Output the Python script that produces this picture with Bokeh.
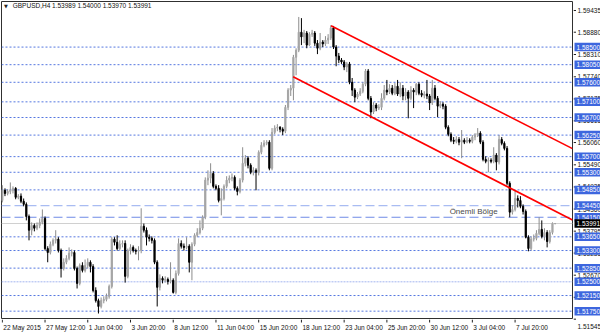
from bokeh.plotting import figure
from bokeh.models import Range1d, Label, Span, ColumnDataSource
from bokeh.layouts import row, column
from bokeh.embed import file_html
from bokeh.resources import INLINE
from bokeh.core.properties import value

FONT = "Liberation Sans"

# ---------------- data (GBPUSD, H4) ----------------
symbol = "GBPUSD,H4"
last_ohlc = [1.53989, 1.54000, 1.53970, 1.53991]

opens = [1.5458, 1.5484, 1.5476, 1.5481, 1.5484, 1.5489, 1.5466, 1.5469, 1.5456, 1.5448,
         1.5417, 1.5382, 1.5394, 1.5387, 1.5394, 1.5402, 1.5412, 1.5335, 1.5325, 1.5346,
         1.5356, 1.5359, 1.5330, 1.5284, 1.5300, 1.5310, 1.5323, 1.5325, 1.5284, 1.5246,
         1.5292, 1.5279, 1.5292, 1.5300, 1.5289, 1.5228, 1.5202, 1.5187, 1.5202, 1.5205,
         1.5213, 1.5238, 1.5359, 1.5351, 1.5335, 1.5346, 1.5348, 1.5264, 1.5330, 1.5338,
         1.5330, 1.5328, 1.5330, 1.5392, 1.5382, 1.5364, 1.5361, 1.5356, 1.5300, 1.5236,
         1.5259, 1.5254, 1.5256, 1.5251, 1.5254, 1.5223, 1.5271, 1.5348, 1.5341, 1.5338,
         1.5341, 1.5300, 1.5346, 1.5369, 1.5376, 1.5387, 1.5415, 1.5510, 1.5515, 1.5527,
         1.5494, 1.5489, 1.5458, 1.5463, 1.5494, 1.5510, 1.5515, 1.5517, 1.5489, 1.5481,
         1.5510, 1.5553, 1.5566, 1.5548, 1.5530, 1.5535, 1.5530, 1.5581, 1.5599, 1.5604,
         1.5607, 1.5540, 1.5632, 1.5643, 1.5645, 1.5640, 1.5635, 1.5696, 1.5740, 1.5745,
         1.5824, 1.5842, 1.5888, 1.5876, 1.5886, 1.5855, 1.5883, 1.5886, 1.5860, 1.5847,
         1.5863, 1.5858, 1.5868, 1.5873, 1.5899, 1.5850, 1.5827, 1.5817, 1.5812, 1.5799,
         1.5807, 1.5760, 1.5740, 1.5722, 1.5730, 1.5737, 1.5755, 1.5789, 1.5719, 1.5684,
         1.5702, 1.5694, 1.5696, 1.5719, 1.5740, 1.5735, 1.5745, 1.5732, 1.5750, 1.5730,
         1.5745, 1.5725, 1.5735, 1.5719, 1.5740, 1.5735, 1.5755, 1.5732, 1.5727, 1.5730,
         1.5725, 1.5707, 1.5745, 1.5719, 1.5699, 1.5704, 1.5699, 1.5645, 1.5627, 1.5612,
         1.5609, 1.5614, 1.5607, 1.5612, 1.5607, 1.5612, 1.5609, 1.5620, 1.5625, 1.5630,
         1.5607, 1.5563, 1.5558, 1.5561, 1.5558, 1.5574, 1.5556, 1.5614, 1.5604, 1.5591,
         1.5502, 1.5428, 1.5435, 1.5463, 1.5458, 1.5443, 1.5430, 1.5364, 1.5335, 1.5359,
         1.5361, 1.5374, 1.5384, 1.5366, 1.5376, 1.5353, 1.5376, 1.53989]

highs = [1.5497, 1.5489, 1.5487, 1.5504, 1.5494, 1.5492, 1.5474, 1.5476, 1.5463, 1.5453,
         1.5422, 1.5402, 1.5399, 1.5402, 1.5412, 1.5435, 1.5417, 1.5341, 1.5353, 1.5361,
         1.5382, 1.5364, 1.5335, 1.5310, 1.5318, 1.5338, 1.5333, 1.5330, 1.5289, 1.5297,
         1.5300, 1.5307, 1.5310, 1.5305, 1.5295, 1.5236, 1.5207, 1.5210, 1.5213, 1.5220,
         1.5243, 1.5364, 1.5364, 1.5369, 1.5356, 1.5356, 1.5356, 1.5335, 1.5346, 1.5343,
         1.5335, 1.5341, 1.5438, 1.5399, 1.5389, 1.5371, 1.5366, 1.5361, 1.5305, 1.5269,
         1.5264, 1.5264, 1.5261, 1.5300, 1.5259, 1.5279, 1.5361, 1.5356, 1.5348, 1.5364,
         1.5346, 1.5351, 1.5374, 1.5387, 1.5407, 1.5420, 1.5517, 1.5535, 1.5553, 1.5533,
         1.5499, 1.5497, 1.5489, 1.5499, 1.5520, 1.5522, 1.5527, 1.5522, 1.5494, 1.5515,
         1.5594, 1.5574, 1.5571, 1.5553, 1.5543, 1.5540, 1.5586, 1.5607, 1.5612, 1.5612,
         1.5612, 1.5643, 1.5650, 1.5653, 1.5648, 1.5645, 1.5702, 1.5745, 1.5753, 1.5830,
         1.5847, 1.5927, 1.5924, 1.5894, 1.5891, 1.5888, 1.5894, 1.5891, 1.5868, 1.5886,
         1.5868, 1.5878, 1.5883, 1.5906, 1.5904, 1.5855, 1.5835, 1.5822, 1.5817, 1.5812,
         1.5812, 1.5771, 1.5745, 1.5735, 1.5745, 1.5760, 1.5794, 1.5794, 1.5725, 1.5709,
         1.5707, 1.5704, 1.5732, 1.5753, 1.5766, 1.5755, 1.5753, 1.5758, 1.5766, 1.5760,
         1.5753, 1.5745, 1.5740, 1.5750, 1.5745, 1.5758, 1.5760, 1.5740, 1.5737, 1.5766,
         1.5730, 1.5766, 1.5753, 1.5725, 1.5712, 1.5709, 1.5704, 1.5650, 1.5632, 1.5620,
         1.5622, 1.5620, 1.5638, 1.5617, 1.5620, 1.5617, 1.5625, 1.5630, 1.5643, 1.5635,
         1.5612, 1.5571, 1.5568, 1.5566, 1.5594, 1.5579, 1.5625, 1.5620, 1.5609, 1.5597,
         1.5507, 1.5446, 1.5484, 1.5471, 1.5469, 1.5448, 1.5435, 1.5369, 1.5366, 1.5371,
         1.5382, 1.5415, 1.5407, 1.5387, 1.5382, 1.5382, 1.5402, 1.54000]

lows = [1.5453, 1.5469, 1.5471, 1.5474, 1.5476, 1.5461, 1.5461, 1.5451, 1.5443, 1.5407,
        1.5356, 1.5369, 1.5379, 1.5382, 1.5387, 1.5397, 1.5330, 1.5300, 1.5320, 1.5341,
        1.5348, 1.5325, 1.5261, 1.5279, 1.5295, 1.5305, 1.5315, 1.5279, 1.5233, 1.5241,
        1.5274, 1.5274, 1.5284, 1.5274, 1.5223, 1.5197, 1.5169, 1.5182, 1.5195, 1.5200,
        1.5207, 1.5233, 1.5343, 1.5330, 1.5330, 1.5338, 1.5248, 1.5259, 1.5320, 1.5325,
        1.5320, 1.5305, 1.5323, 1.5376, 1.5343, 1.5353, 1.5348, 1.5295, 1.5187, 1.5228,
        1.5246, 1.5248, 1.5243, 1.5246, 1.5220, 1.5218, 1.5266, 1.5335, 1.5330, 1.5333,
        1.5274, 1.5254, 1.5341, 1.5364, 1.5371, 1.5382, 1.5410, 1.5497, 1.5502, 1.5489,
        1.5484, 1.5453, 1.5420, 1.5458, 1.5489, 1.5502, 1.5507, 1.5484, 1.5471, 1.5476,
        1.5504, 1.5545, 1.5540, 1.5525, 1.5522, 1.5484, 1.5522, 1.5576, 1.5594, 1.5599,
        1.5535, 1.5535, 1.5627, 1.5635, 1.5632, 1.5625, 1.5630, 1.5689, 1.5725, 1.5714,
        1.5778, 1.5837, 1.5855, 1.5860, 1.5847, 1.5853, 1.5876, 1.5853, 1.5832, 1.5842,
        1.5850, 1.5853, 1.5858, 1.5868, 1.5845, 1.5801, 1.5809, 1.5807, 1.5791, 1.5786,
        1.5755, 1.5725, 1.5709, 1.5717, 1.5725, 1.5732, 1.5750, 1.5714, 1.5668, 1.5679,
        1.5686, 1.5689, 1.5689, 1.5714, 1.5727, 1.5730, 1.5727, 1.5727, 1.5725, 1.5722,
        1.5714, 1.5714, 1.5668, 1.5714, 1.5694, 1.5727, 1.5727, 1.5722, 1.5719, 1.5717,
        1.5689, 1.5702, 1.5714, 1.5671, 1.5694, 1.5691, 1.5640, 1.5622, 1.5607, 1.5602,
        1.5604, 1.5599, 1.5566, 1.5602, 1.5604, 1.5604, 1.5604, 1.5612, 1.5620, 1.5602,
        1.5558, 1.5553, 1.5530, 1.5553, 1.5553, 1.5535, 1.5550, 1.5599, 1.5586, 1.5497,
        1.5415, 1.5422, 1.5430, 1.5440, 1.5438, 1.5422, 1.5361, 1.5328, 1.5330, 1.5353,
        1.5356, 1.5369, 1.5361, 1.5356, 1.5338, 1.5348, 1.5371, 1.53970]

closes = [1.5484, 1.5476, 1.5481, 1.5484, 1.5489, 1.5466, 1.5469, 1.5456, 1.5448, 1.5417,
          1.5382, 1.5394, 1.5387, 1.5394, 1.5402, 1.5412, 1.5335, 1.5325, 1.5346, 1.5356,
          1.5359, 1.5330, 1.5284, 1.5300, 1.5310, 1.5323, 1.5325, 1.5284, 1.5246, 1.5292,
          1.5279, 1.5292, 1.5300, 1.5289, 1.5228, 1.5202, 1.5187, 1.5202, 1.5205, 1.5213,
          1.5238, 1.5359, 1.5351, 1.5335, 1.5346, 1.5348, 1.5264, 1.5330, 1.5338, 1.5330,
          1.5328, 1.5330, 1.5392, 1.5382, 1.5364, 1.5361, 1.5356, 1.5300, 1.5236, 1.5259,
          1.5254, 1.5256, 1.5251, 1.5254, 1.5223, 1.5271, 1.5348, 1.5341, 1.5338, 1.5341,
          1.5300, 1.5346, 1.5369, 1.5376, 1.5387, 1.5415, 1.5510, 1.5515, 1.5527, 1.5494,
          1.5489, 1.5458, 1.5463, 1.5494, 1.5510, 1.5515, 1.5517, 1.5489, 1.5481, 1.5510,
          1.5553, 1.5566, 1.5548, 1.5530, 1.5535, 1.5530, 1.5581, 1.5599, 1.5604, 1.5607,
          1.5540, 1.5632, 1.5643, 1.5645, 1.5640, 1.5635, 1.5696, 1.5740, 1.5745, 1.5824,
          1.5842, 1.5888, 1.5876, 1.5886, 1.5855, 1.5883, 1.5886, 1.5860, 1.5847, 1.5863,
          1.5858, 1.5868, 1.5873, 1.5899, 1.5850, 1.5827, 1.5817, 1.5812, 1.5799, 1.5807,
          1.5760, 1.5740, 1.5722, 1.5730, 1.5737, 1.5755, 1.5789, 1.5719, 1.5684, 1.5702,
          1.5694, 1.5696, 1.5719, 1.5740, 1.5735, 1.5745, 1.5732, 1.5750, 1.5730, 1.5745,
          1.5725, 1.5735, 1.5719, 1.5740, 1.5735, 1.5755, 1.5732, 1.5727, 1.5730, 1.5725,
          1.5707, 1.5745, 1.5719, 1.5699, 1.5704, 1.5699, 1.5645, 1.5627, 1.5612, 1.5609,
          1.5614, 1.5607, 1.5612, 1.5607, 1.5612, 1.5609, 1.5620, 1.5625, 1.5630, 1.5607,
          1.5563, 1.5558, 1.5561, 1.5558, 1.5574, 1.5556, 1.5614, 1.5604, 1.5591, 1.5502,
          1.5428, 1.5435, 1.5463, 1.5458, 1.5443, 1.5430, 1.5364, 1.5335, 1.5359, 1.5361,
          1.5374, 1.5384, 1.5366, 1.5376, 1.5353, 1.5376, 1.5399, 1.53991]

time_tick_bars = [0, 16, 32, 48, 64, 80, 96, 112, 128, 144, 160, 176, 192]
time_tick_labels = ["22 May 2015", "27 May 12:00", "1 Jun 04:00", "3 Jun 20:00",
                    "8 Jun 12:00", "11 Jun 04:00", "15 Jun 20:00", "18 Jun 12:00",
                    "23 Jun 04:00", "25 Jun 20:00", "30 Jun 12:00", "3 Jul 04:00",
                    "7 Jul 20:00"]

price_ticks = [1.59435, 1.58880, 1.58310, 1.57740, 1.57175, 1.56615, 1.56060, 1.55490,
               1.54925, 1.54360, 1.53795, 1.53235, 1.52670, 1.52105, 1.51545]

dotted_levels = [1.58500, 1.58050, 1.57600, 1.57100, 1.56700, 1.56250, 1.55700, 1.55300,
                 1.54850, 1.53650, 1.53300, 1.52850, 1.52150, 1.51750]
faint_levels = [1.52500]
zone_levels = [1.54450, 1.54150]
zone_label = "Önemli Bölge"
zone_label_bar = 167.5
zone_label_price = 1.5430

# trend channel (bar index, price) end points
upper_bars = [123.1, 213.5]
upper_prices = [1.59045, 1.55904]
lower_bars = [108.9, 213.5]
lower_prices = [1.57740, 1.54079]

# ---------------- geometry ----------------
X_START, X_END = -0.3, 213.5
Y_BOT, Y_TOP = 1.51537, 1.59665
MAIN_W, MAIN_H, SCALE_W, TIME_H = 573, 319, 27, 14
frame_h = MAIN_H - 1
price_per_px = (Y_TOP - Y_BOT) / frame_h
Y_BOT_EXT = Y_BOT - TIME_H * price_per_px

TEXT = "#111111"
BLUE_DOT = "#5577e0"
TAG_BLUE = "#3d66de"

# ---------------- main chart ----------------
n = len(opens)
idx = list(range(n))
up = [c >= o for o, c in zip(opens, closes)]


def subset(flag):
    sel = [i for i in idx if up[i] == flag]
    return ColumnDataSource(dict(
        x=sel,
        h=[highs[i] for i in sel], l=[lows[i] for i in sel],
        top=[max(opens[i], closes[i]) for i in sel],
        bot=[min(opens[i], closes[i]) for i in sel]))


p = figure(width=MAIN_W, height=MAIN_H, output_backend="svg", toolbar_location=None,
           x_range=Range1d(X_START, X_END), y_range=Range1d(Y_BOT, Y_TOP),
           x_axis_location=None, y_axis_location=None,
           min_border_left=1, min_border_right=1, min_border_top=1, min_border_bottom=0)
p.grid.visible = False
p.background_fill_color = "white"
p.border_fill_color = "white"
p.outline_line_color = "#303030"
p.outline_line_width = 1

for lv in dotted_levels:
    p.add_layout(Span(location=lv, dimension="width", line_color=BLUE_DOT,
                      line_dash="2 2", line_width=1, level="underlay"))
for lv in faint_levels:
    p.add_layout(Span(location=lv, dimension="width", line_color="#a3b5ef",
                      line_dash="2 1", line_width=1, level="underlay"))
p.add_layout(Span(location=zone_levels[0], dimension="width", line_color="#a9bcf2",
                  line_dash="9 4", line_width=1.2, level="underlay"))
p.add_layout(Span(location=zone_levels[1], dimension="width", line_color="#6f8ae6",
                  line_dash="9 4", line_width=1.2, level="underlay"))
p.add_layout(Span(location=last_ohlc[3], dimension="width", line_color="#d0d0d0",
                  line_width=1, level="underlay"))

bull = subset(True)
bear = subset(False)
p.segment(x0="x", y0="h", x1="x", y1="l", source=bull, line_color="#8c8c8c", line_width=1)
p.segment(x0="x", y0="h", x1="x", y1="l", source=bear, line_color="#000000", line_width=1)
p.vbar(x="x", width=0.45, top="top", bottom="bot", source=bull,
       fill_color="#a6a6a6", line_color="#a6a6a6", line_width=1)
p.vbar(x="x", width=0.45, top="top", bottom="bot", source=bear,
       fill_color="#000000", line_color="#000000", line_width=1)

p.line(upper_bars, upper_prices, line_color="#ff0000", line_width=1.6)
p.line(lower_bars, lower_prices, line_color="#ff0000", line_width=1.6)

p.add_layout(Label(x=zone_label_bar, y=zone_label_price, text=zone_label,
                   text_font=FONT, text_font_size="8px", text_color="#4a4a4a",
                   text_baseline="middle", text_align="left"))
p.add_layout(Label(x=0.6, y=1.5955, text="▼", text_font="DejaVu Sans",
                   text_font_size="5px", text_color="#202020", text_baseline="middle"))
p.add_layout(Label(x=3.9, y=1.5955,
                   text=f"{symbol}  " + " ".join(f"{v:.5f}" for v in last_ohlc),
                   text_font=FONT, text_font_size="6.5px", text_color=TEXT,
                   text_baseline="middle"))

# ---------------- time scale (below) ----------------
t = figure(width=MAIN_W, height=TIME_H, output_backend="svg", toolbar_location=None,
           x_range=p.x_range, y_range=Range1d(TIME_H, 0),
           x_axis_location=None, y_axis_location=None,
           min_border_left=1, min_border_right=1, min_border_top=0, min_border_bottom=0)
t.grid.visible = False
t.outline_line_color = None
t.background_fill_color = "white"
t.border_fill_color = "white"
t.segment(x0=time_tick_bars, y0=[0] * len(time_tick_bars), x1=time_tick_bars,
          y1=[3] * len(time_tick_bars), line_color="#202020", line_width=1)
t.text(x=time_tick_bars, y=[7.5] * len(time_tick_bars), text=time_tick_labels,
       x_offset=1, text_font=value(FONT), text_font_size="6.5px", text_color=TEXT,
       text_align="left", text_baseline="middle")

# ---------------- price scale (right) ----------------
s = figure(width=SCALE_W, height=MAIN_H + TIME_H, output_backend="svg", toolbar_location=None,
           x_range=Range1d(0, SCALE_W), y_range=Range1d(Y_BOT_EXT, Y_TOP),
           x_axis_location=None, y_axis_location=None,
           min_border_left=0, min_border_right=0, min_border_top=1, min_border_bottom=0)
s.grid.visible = False
s.outline_line_color = None
s.background_fill_color = "white"
s.border_fill_color = "white"
s.segment(x0=[0] * len(price_ticks), y0=price_ticks, x1=[2.5] * len(price_ticks),
          y1=price_ticks, line_color="#202020", line_width=1)
tick_dy = [0] * (len(price_ticks) - 1) + [7]
s.text(x=[4] * len(price_ticks), y=price_ticks, text=[f"{v:.5f}" for v in price_ticks],
       y_offset=tick_dy, text_font=value(FONT), text_font_size="6.5px", text_color=TEXT,
       text_align="left", text_baseline="middle")

tag_levels = sorted(dotted_levels + faint_levels + zone_levels, reverse=True)
s.rect(x=[SCALE_W / 2 + 0.5] * len(tag_levels), y=tag_levels, width=SCALE_W - 1, height=8.5,
       height_units="screen", fill_color=TAG_BLUE, line_color=None)
s.text(x=[3] * len(tag_levels), y=tag_levels, text=[f"{v:.5f}" for v in tag_levels],
       text_font=value(FONT), text_font_size="6.5px", text_color="white",
       text_align="left", text_baseline="middle")
s.rect(x=[SCALE_W / 2 + 0.5], y=[last_ohlc[3]], width=SCALE_W - 1, height=8.5,
       height_units="screen", fill_color="#000000", line_color=None)
s.text(x=[3], y=[last_ohlc[3]], text=[f"{last_ohlc[3]:.5f}"],
       text_font=value(FONT), text_font_size="6.5px", text_color="white",
       text_align="left", text_baseline="middle")

layout = row(column(p, t), s)
open("out.html", "w").write(file_html(layout, INLINE))
